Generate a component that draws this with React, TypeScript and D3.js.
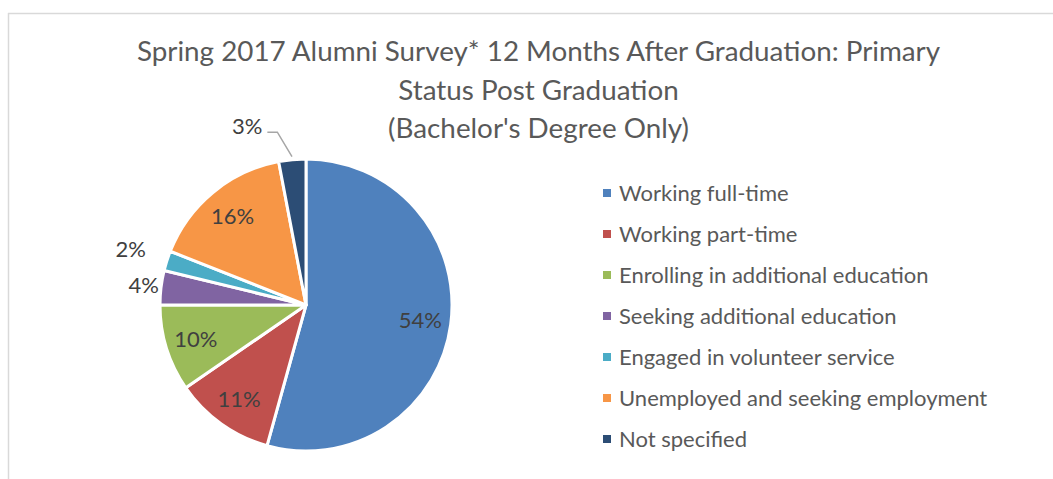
import React from "react";
import * as d3 from "d3";

const categories = [
  "Working full-time",
  "Working part-time",
  "Enrolling in additional education",
  "Seeking additional education",
  "Engaged in volunteer service",
  "Unemployed and seeking employment",
  "Not specified",
];
const values = [54.3, 11.1, 9.6, 3.8, 2.2, 16.0, 3.0];
const labels = ["54%", "11%", "10%", "4%", "2%", "16%", "3%"];
const colors = ["#4F81BD", "#C0504D", "#9BBB59", "#8064A2", "#4BACC6", "#F79646", "#2C4D75"];
const titleLines = [
  "Spring 2017 Alumni Survey* 12 Months After Graduation: Primary",
  "Status Post Graduation",
  "(Bachelor's Degree Only)",
];

const W = 1053;
const H = 479;
const FONT = "Lato, 'Open Sans', sans-serif";

export default function App() {
  const cx = 306;
  const cy = 305;
  const r = 146;

  const pie = d3.pie<number>().sort(null).value((d) => d);
  const arcs = pie(values);
  const arcGen = d3.arc<d3.PieArcDatum<number>>().innerRadius(0).outerRadius(r);

  const pt = (angle: number, rad: number) => [
    cx + Math.sin(angle) * rad,
    cy - Math.cos(angle) * rad,
  ];

  const legendX = 603;
  const legendY0 = 201;
  const legendStep = 41;

  return (
    <svg
      width={W}
      height={H}
      style={{ position: "absolute", left: 0, top: 0, background: "#fff" }}
      fontFamily={FONT}
    >
      <rect x={0} y={0} width={W} height={H} fill="#fff" />
      <line x1={8.5} y1={13} x2={8.5} y2={H} stroke="#d9d9d9" strokeWidth={1.5} />
      <line x1={8} y1={13.5} x2={W} y2={13.5} stroke="#d9d9d9" strokeWidth={1.5} />

      {titleLines.map((t, i) => (
        <text
          key={i}
          x={538.5}
          y={61 + i * 38.5}
          textAnchor="middle"
          fontSize={27.8}
          fill="#595959"
        >
          {t}
        </text>
      ))}

      <g transform={`translate(${cx},${cy})`}>
        {arcs.map((a, i) => (
          <path key={i} d={arcGen(a) || ""} fill={colors[i]} stroke="#fff" strokeWidth={3} strokeLinejoin="round" />
        ))}
      </g>

      {arcs.map((a, i) => {
        const mid = (a.startAngle + a.endAngle) / 2;
        const small = values[i] < 5;
        if (!small) {
          const [x, y] = pt(mid, r * 0.79);
          return (
            <text key={i} x={x} y={y} dy="0.35em" textAnchor="middle" fontSize={22} fill="#404040">
              {labels[i]}
            </text>
          );
        }
        const isLast = i === arcs.length - 1;
        if (isLast) {
          const [sx, sy] = pt(mid, r * 1.02);
          const [ex, ey] = pt(mid - 0.07, r * 1.2);
          const hx = ex - 10;
          return (
            <g key={i}>
              <polyline points={`${sx},${sy} ${ex},${ey} ${hx},${ey}`} fill="none" stroke="#a6a6a6" strokeWidth={1.5} />
              <text x={hx - 5} y={ey} dy="0.1em" textAnchor="end" fontSize={22} fill="#404040">
                {labels[i]}
              </text>
            </g>
          );
        }
        const [x, y] = pt(mid, r * (1.12 + (i % 2 === 0 ? 0.14 : 0)));
        return (
          <text key={i} x={x} y={y} dy="0.35em" textAnchor="middle" fontSize={22} fill="#404040">
            {labels[i]}
          </text>
        );
      })}

      {categories.map((c, i) => {
        const y = legendY0 + i * legendStep;
        return (
          <g key={c}>
            <rect x={legendX} y={y - 12} width={8} height={8} fill={colors[i]} />
            <text x={legendX + 16} y={y} fontSize={22} fill="#595959">
              {c}
            </text>
          </g>
        );
      })}
    </svg>
  );
}
